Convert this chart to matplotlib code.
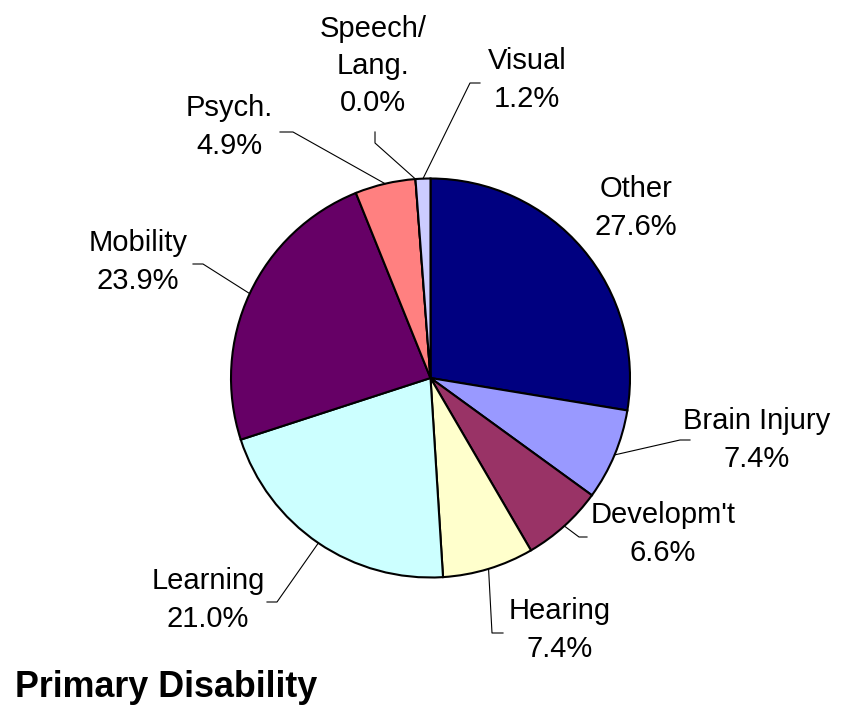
import numpy as np
import matplotlib.pyplot as plt

W, H = 852, 709

categories = ["Other", "Brain Injury", "Developm't", "Hearing", "Learning",
              "Mobility", "Psych.", "Speech/\nLang.", "Visual"]
shares = [27.6, 7.4, 6.6, 7.4, 21.0, 23.9, 4.9, 0.0, 1.2]
colors = ["#000080", "#9999FF", "#993366", "#FFFFCC", "#CCFFFF",
          "#660066", "#FF8080", "#FFFFFF", "#CCCCFF"]

# layout, in pixels from the top-left corner
CENTER = (430.5, 378)
RADIUS = 199.5
label_xy = [(636, 208), (757, 440), (663, 534), (560, 630), (208, 600),
            (138, 262), (229, 127), (373, 66), (527, 80)]
# leader line points after the wedge edge point (None = no leader)
leaders = [None,
           [(680, 440), (690, 440)],
           [(579, 537), (587, 537)],
           [(492, 633), (503, 633)],
           [(277, 602), (267, 602)],
           [(203, 264), (193, 264)],
           [(293, 132), (280, 132)],
           [(375, 143), (375, 132)],
           [(470, 83), (480, 83)]]


def flip(p):
    return (p[0], H - p[1])


plt.rcParams["font.family"] = ["Liberation Sans", "DejaVu Sans"]
fig = plt.figure(figsize=(W / 100, H / 100), dpi=100)
ax = fig.add_axes([0, 0, 1, 1])

wedges, _ = ax.pie(shares, colors=colors, startangle=90, counterclock=False,
                   center=flip(CENTER), radius=RADIUS, frame=True,
                   wedgeprops=dict(edgecolor="black", linewidth=1.5))
ax.set_xlim(0, W)
ax.set_ylim(0, H)
ax.set_aspect("equal")
ax.axis("off")

for i, (w, name, val) in enumerate(zip(wedges, categories, shares)):
    x, y = flip(label_xy[i])
    ax.text(x, y, f"{name}\n{val:.1f}%", ha="center", va="center",
            fontsize=21, linespacing=1.42, color="black")
    if leaders[i] is None:
        continue
    mid = np.deg2rad((w.theta1 + w.theta2) / 2)
    cx, cy = flip(CENTER)
    start = (cx + RADIUS * np.cos(mid), cy + RADIUS * np.sin(mid))
    pts = [start] + [flip(p) for p in leaders[i]]
    xs, ys = zip(*pts)
    ax.plot(xs, ys, color="black", lw=0.8)

ax.text(15, H - 697, "Primary Disability", ha="left", va="baseline",
        fontsize=25.8, fontweight="bold")

fig.savefig("out.png", dpi=100)
